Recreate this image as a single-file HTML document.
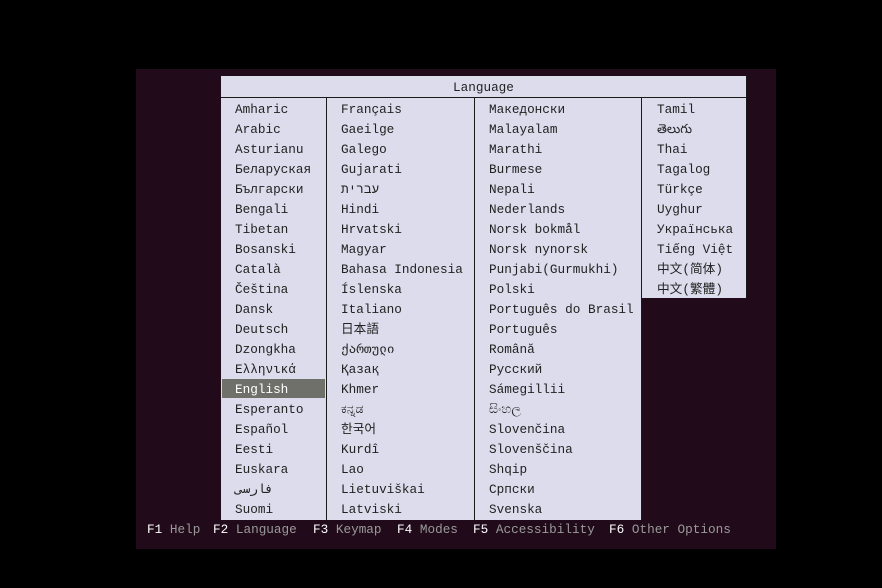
<!DOCTYPE html>
<html><head><meta charset="utf-8"><style>
body{margin:0;width:882px;height:588px;background:#000;position:relative;overflow:hidden;font-family:"Liberation Mono","DejaVu Sans Mono","Noto Sans CJK SC",monospace;font-size:12.7px}
.box{position:absolute;left:136px;top:69px;width:640px;height:480px;background:#210a19}
.p{position:absolute;background:#dcdcec}
.l{position:absolute;background:#1a1a1a}
.t{position:absolute;color:#222;white-space:pre;line-height:20px}
.f{position:absolute;top:520px;color:#9a9a9a;white-space:pre;line-height:20px}
.f b{color:#fff;font-weight:normal}
</style></head><body>
<div class="box"></div>
<div class="p" style="left:221px;top:76px;width:526px;height:444px"></div>
<div class="p" style="left:641px;top:298px;width:106px;height:222px;background:#210a19"></div>
<div class="l" style="left:221px;top:97px;width:526px;height:1px"></div>
<div class="l" style="left:326px;top:98px;width:1px;height:422px"></div>
<div class="l" style="left:474px;top:98px;width:1px;height:422px"></div>
<div class="l" style="left:641px;top:98px;width:1px;height:422px"></div>
<div class="l" style="left:746px;top:76px;width:1px;height:222px"></div>
<div class="t" style="left:453px;top:78px">Language</div>
<div style="position:absolute;left:222px;top:379px;width:103px;height:19px;background:#6f706a;border:0"></div>
<div class="t" style="left:235px;top:100px">Amharic
Arabic
Asturianu
Беларуская
Български
Bengali
Tibetan
Bosanski
Català
Čeština
Dansk
Deutsch
Dzongkha
Ελληνικά
<span style="color:#fff">English</span>
Esperanto
Español
Eesti
Euskara
فارسی
Suomi</div>
<div class="t" style="left:341px;top:100px">Français
Gaeilge
Galego
Gujarati
עברית
Hindi
Hrvatski
Magyar
Bahasa Indonesia
Íslenska
Italiano
日本語
ქართული
Қазақ
Khmer
ಕನ್ನಡ
한국어
Kurdî
Lao
Lietuviškai
Latviski</div>
<div class="t" style="left:489px;top:100px">Македонски
Malayalam
Marathi
Burmese
Nepali
Nederlands
Norsk bokmål
Norsk nynorsk
Punjabi(Gurmukhi)
Polski
Português do Brasil
Português
Română
Русский
Sámegillii
සිංහල
Slovenčina
Slovenščina
Shqip
Српски
Svenska</div>
<div class="t" style="left:657px;top:100px">Tamil
తెలుగు
Thai
Tagalog
Türkçe
Uyghur
Українська
Tiếng Việt
中文(简体)
中文(繁體)</div>
<div class="f" style="left:147px"><b>F1</b> Help</div>
<div class="f" style="left:213px"><b>F2</b> Language</div>
<div class="f" style="left:313px"><b>F3</b> Keymap</div>
<div class="f" style="left:397px"><b>F4</b> Modes</div>
<div class="f" style="left:473px"><b>F5</b> Accessibility</div>
<div class="f" style="left:609px"><b>F6</b> Other Options</div>
</body></html>
